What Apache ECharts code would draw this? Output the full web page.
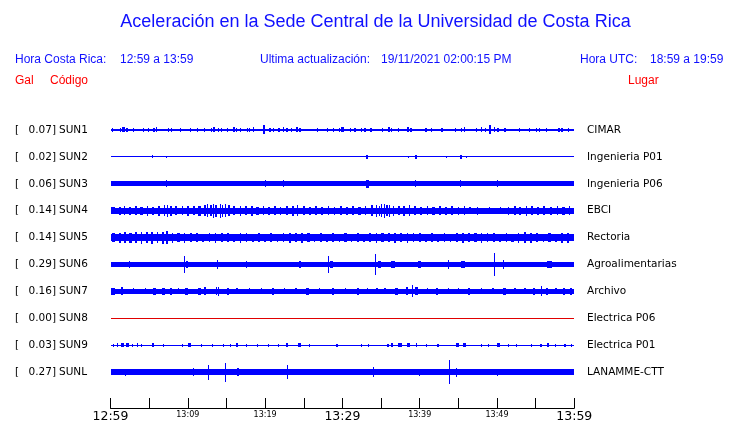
<!DOCTYPE html>
<html>
<head>
<meta charset="utf-8">
<script src="https://cdn.jsdelivr.net/npm/echarts@6/dist/echarts.min.js"></script>
<style>html,body{margin:0;padding:0;background:#fff;}#c{width:740px;height:423px;}</style>
</head>
<body>
<div id="c"></div>
<script>
// ---- data ----
const codes = ['SUN1','SUN2','SUN3','SUN4','SUN5','SUN6','SUN7','SUN8','SUN9','SUNL'];
const places = ['CIMAR','Ingenieria P01','Ingenieria P06','EBCI','Rectoria','Agroalimentarias','Archivo','Electrica P06','Electrica P01','LANAMME-CTT'];
const gal = ['0.07','0.02','0.06','0.14','0.14','0.29','0.16','0.00','0.03','0.27'];
const tickLabels = ['12:59','13:09','13:19','13:29','13:39','13:49','13:59'];
const tickMinutes = [0,10,20,30,40,50,60];
// base half-amplitude of the continuous trace (px-equivalent units)
const baseAmp = [1.0,0.5,2.5,3.0,3.5,2.5,2.5,0.5,0.5,2.7];
// bursts: [minute after 12:59, half-amplitude, duration in minutes]
const sun1 = [[0.3,2,0.15],[1.3,2,0.2],[1.7,2.5,0.3],[2.1,2,0.2],[2.9,2,0.1],[4.2,1.8,0.1],[4.9,2,0.1],[5.6,2,0.2],[5.9,2.5,0.15],[7.5,2,0.2],[7.9,2,0.15],[9.0,2,0.1],[10.3,2,0.1],[11.2,2,0.1],[12.2,2,0.15],[13.1,2,0.15],[13.4,2.5,0.2],[14.0,2,0.2],[14.4,2,0.15],[15.1,2,0.15],[16.0,2.5,0.2],[16.3,2,0.15],[16.8,2,0.1],[17.7,2,0.15],[18.0,2,0.2],[18.5,2.5,0.2],[19.8,4.5,0.25],[20.6,2,0.2],[21.1,2,0.15],[21.8,2,0.15],[22.4,2.5,0.2],[22.8,2,0.2],[23.4,2,0.1],[24.1,2.5,0.2],[24.5,2,0.2],[26.8,2,0.2],[28.0,2,0.1],[28.8,2,0.1],[29.6,2,0.2],[30.0,2.5,0.3],[31.0,2,0.15],[31.6,2,0.2],[32.5,2,0.15],[32.9,2,0.2],[33.7,2,0.15],[35.2,2,0.2],[36.0,2.5,0.2],[36.4,2,0.15],[37.3,2,0.15],[38.5,2.5,0.2],[38.9,2,0.2],[40.8,2,0.2],[41.5,2,0.1],[42.9,2,0.2],[44.6,2,0.15],[45.4,2,0.2],[45.8,2.5,0.2],[47.4,2,0.15],[48.0,2.5,0.2],[48.5,2,0.2],[49.1,4.5,0.25],[49.7,2.5,0.2],[50.1,2,0.2],[51.0,2,0.2],[52.9,2,0.2],[54.2,2,0.15],[55.1,2,0.2],[55.5,2,0.15],[56.4,2,0.15],[58.0,2,0.2],[58.4,2,0.2],[59.2,2,0.1]];
const sun2 = [[5.4,1.5,0.1],[7.2,1,0.08],[33.2,2,0.3],[38.5,1,0.08],[39.5,2,0.3],[43.5,1,0.08],[45.3,2,0.3],[46.0,1,0.08]];
const sun3 = [[7.2,3.5,0.1],[20.1,3.5,0.1],[22.4,3.5,0.1],[33.2,4,0.4],[39.4,3.5,0.1],[45.3,3.5,0.1],[50.0,3.5,0.08]];
const sun4 = [[0.3,3.5,0.5],[1.2,4,0.2],[1.8,4.5,0.15],[2.5,4,0.3],[3.3,4.5,0.2],[4.0,4,0.4],[4.8,5,0.15],[5.5,4,0.3],[6.3,5,0.2],[7.0,5.5,0.15],[7.4,6,0.15],[7.8,5,0.2],[8.5,4.5,0.3],[9.3,4.5,0.2],[10.0,5,0.3],[10.8,4.5,0.2],[11.5,5,0.3],[12.2,5.5,0.2],[12.6,6.5,0.15],[13.0,5.5,0.2],[13.3,7,0.15],[13.7,6,0.25],[14.2,7,0.15],[14.5,6,0.2],[14.9,6.5,0.15],[15.3,5.5,0.2],[16.0,4.5,0.2],[16.8,5,0.15],[17.5,4.5,0.3],[18.3,5,0.2],[19.0,4,0.3],[19.8,4.5,0.2],[20.5,4,0.2],[21.3,4.5,0.3],[22.0,4,0.2],[22.8,4.5,0.2],[23.6,5,0.2],[24.2,5.5,0.15],[25.0,4.5,0.3],[25.8,4,0.2],[26.6,4.5,0.2],[27.4,4,0.3],[28.2,4.5,0.2],[29.0,4,0.2],[29.8,4.5,0.3],[30.6,4,0.2],[31.4,4.5,0.2],[32.2,4,0.3],[33.0,4.5,0.2],[33.8,5.5,0.2],[34.4,6,0.2],[34.8,5,0.2],[35.1,6.5,0.15],[35.5,7,0.15],[35.8,5.5,0.2],[36.1,6,0.15],[36.6,5,0.2],[37.3,4.5,0.2],[38.0,5,0.2],[38.7,5.5,0.15],[39.4,4.5,0.3],[40.2,4,0.2],[41.0,4.5,0.2],[41.8,4,0.3],[42.6,4.5,0.2],[43.4,4,0.2],[44.2,4.5,0.3],[45.0,4,0.2],[45.8,4.5,0.2],[46.5,3.5,0.3],[47.5,4,0.2],[49.0,3.5,0.15],[50.5,3.5,0.15],[51.5,4,0.2],[52.3,4.5,0.2],[53.0,4,0.3],[53.8,5,0.15],[54.5,4.5,0.2],[55.3,4,0.3],[56.1,4.5,0.2],[57.0,4,0.3],[57.8,4.5,0.2],[58.6,4,0.3],[59.4,4.5,0.2]];
const sun5 = [[0.4,4.5,0.3],[1.2,5,0.2],[1.9,5.5,0.2],[2.6,5,0.3],[3.3,5.5,0.2],[4.0,6,0.2],[4.7,5.5,0.3],[5.4,6,0.2],[6.1,5.5,0.2],[6.8,6,0.2],[7.3,6.5,0.15],[8.0,5,0.2],[8.8,4.5,0.3],[9.6,5,0.2],[10.4,4.5,0.2],[11.2,4.5,0.3],[12.0,4,0.2],[12.8,4.5,0.2],[13.6,5,0.2],[14.4,4.5,0.3],[15.2,4.5,0.2],[16.0,4,0.3],[16.8,5,0.2],[17.6,4.5,0.2],[18.4,4,0.3],[19.2,4.5,0.2],[20.0,4,0.2],[20.8,4.5,0.3],[21.6,4,0.2],[22.4,4.5,0.2],[23.2,5,0.3],[24.0,4.5,0.2],[24.8,5,0.2],[25.6,4.5,0.3],[26.4,4,0.2],[27.2,4.5,0.2],[28.0,4,0.3],[28.8,4.5,0.2],[29.6,4,0.2],[30.4,4.5,0.3],[31.2,4,0.2],[32.0,4.5,0.2],[32.8,4,0.3],[33.6,4.5,0.2],[34.4,5,0.2],[35.2,4.5,0.3],[36.0,4.5,0.2],[36.8,5,0.2],[37.6,4.5,0.3],[38.4,5,0.2],[39.2,4.5,0.2],[40.0,4.5,0.3],[40.8,4,0.2],[41.6,4.5,0.2],[42.4,4,0.3],[43.2,4.5,0.2],[44.0,4,0.2],[44.8,4.5,0.3],[45.6,5,0.2],[46.4,4.5,0.2],[47.2,4.5,0.3],[48.0,5,0.2],[48.8,4.5,0.2],[49.6,4.5,0.3],[50.4,4,0.2],[51.2,4.5,0.2],[52.0,4,0.3],[52.8,5,0.2],[53.6,5.5,0.2],[54.4,5,0.3],[55.2,4.5,0.2],[56.0,4,0.2],[56.8,4.5,0.3],[57.6,4,0.2],[58.4,5,0.2],[59.2,5,0.3]];
const sun6 = [[2.5,4,0.1],[4.0,3,0.3],[5.2,3,0.2],[6.8,3,0.2],[8.0,3,0.4],[9.5,8.5,0.08],[9.9,3.2,0.3],[11.5,3,0.2],[13.8,4.5,0.1],[16.0,3,0.2],[17.6,3.2,0.1],[19.0,3,0.2],[20.5,3,0.2],[22.3,3,0.2],[24.5,3.2,0.2],[25.5,3,0.3],[26.8,3,0.2],[28.2,9,0.1],[28.6,3.5,0.4],[29.5,3,0.2],[31.5,3,0.3],[34.3,11,0.08],[34.8,3.2,0.4],[36.6,3.2,0.5],[38.4,3,0.2],[40.0,3.2,0.4],[42.2,3,0.2],[43.7,4.5,0.1],[45.6,3.4,0.5],[47.3,3,0.2],[49.7,11.5,0.1],[50.8,5,0.1],[52.5,3,0.2],[54.5,3,0.2],[56.8,3.6,0.6],[58.7,3,0.2]];
const sun7 = [[0.3,3.5,0.5],[1.5,4,0.2],[3.0,3,0.15],[4.5,3,0.2],[5.7,3.5,0.4],[6.9,3.5,0.4],[7.8,3.5,0.3],[8.8,3,0.2],[9.8,3.5,0.4],[11.5,3.5,0.3],[12.2,4,0.2],[13.7,4,0.2],[14.0,4.5,0.2],[15.2,3.5,0.3],[16.4,3,0.2],[18.0,3,0.15],[19.5,3,0.15],[21.0,3.5,0.2],[22.5,3,0.15],[24.0,3,0.2],[25.5,3.5,0.3],[27.0,3,0.15],[28.8,3.5,0.3],[30.4,3,0.2],[32.0,3.5,0.2],[33.2,3,0.15],[34.5,3,0.2],[35.5,3,0.2],[37.0,3.5,0.4],[38.4,4,0.3],[39.1,6,0.1],[39.6,4,0.3],[41.0,3,0.2],[42.2,3.5,0.3],[43.7,3,0.2],[45.0,3,0.2],[46.4,3.5,0.3],[48.0,3,0.2],[49.5,3,0.2],[51.0,3.5,0.4],[52.3,3,0.2],[53.6,3,0.2],[54.8,3.5,0.2],[55.8,5,0.15],[56.5,3.5,0.3],[57.6,3,0.2],[58.7,3.5,0.2],[59.6,3.5,0.2]];
const sun8 = [];
const sun9 = [[0.4,1.5,0.2],[0.9,2,0.2],[1.5,2,0.4],[2.2,2,0.3],[2.9,1.5,0.15],[3.5,1.8,0.2],[4.0,1.5,0.15],[5.5,2,0.2],[6.8,1.5,0.1],[9.3,1.5,0.1],[10.2,2,0.3],[11.7,1.5,0.1],[13.2,1.5,0.1],[14.6,1.5,0.15],[15.5,1.5,0.15],[16.4,2,0.2],[17.6,1.5,0.15],[19.0,1.5,0.15],[20.4,1.5,0.15],[21.7,1.5,0.15],[22.8,2,0.3],[24.4,2,0.4],[25.7,1.5,0.15],[29.3,1.5,0.15],[32.5,1.5,0.15],[33.4,1.5,0.15],[35.9,1.5,0.15],[36.4,2,0.3],[37.4,2,0.5],[38.6,2,0.4],[39.6,1.8,0.2],[40.9,1.5,0.1],[42.4,1.5,0.2],[44.9,2,0.3],[45.8,2,0.4],[48.0,1.5,0.1],[48.9,1.5,0.1],[50.2,2,0.5],[51.5,1.5,0.1],[52.5,1.5,0.15],[54.5,1.5,0.1],[55.7,1.5,0.15],[56.6,1.8,0.2],[57.6,1.5,0.15],[58.8,1.5,0.15],[59.6,1.5,0.15]];
const sunL = [[1.9,3.5,0.1],[6.7,3,0.1],[10.7,4,0.1],[12.6,7.5,0.08],[14.8,9.5,0.1],[16.5,3.8,0.25],[21.5,3,0.1],[22.9,7,0.1],[28.2,3,0.1],[34.0,5,0.1],[35.0,3.2,0.4],[37.5,3,0.15],[40.0,3.5,0.1],[41.8,3,0.15],[42.6,3,0.1],[43.8,12,0.1],[44.8,4.5,0.15],[48.0,3,0.1],[50.1,3.5,0.1],[53.5,3,0.1],[56.9,3,0.1]];
const bursts = [sun1,sun2,sun3,sun4,sun5,sun6,sun7,sun8,sun9,sunL];

// ---- layout / style ----
const GRID_TOP = 116, GRID_BOTTOM = 409, GRID_H = GRID_BOTTOM - GRID_TOP;
const FIRST_ROW = 130, ROW_STEP = 27;
const centerOf = i => GRID_BOTTOM - (FIRST_ROW + ROW_STEP * i);
const traceColor = i => (codes[i] === 'SUN8' ? '#e00000' : '#0000ff');

const chart = echarts.init(document.getElementById('c'), null, {renderer: 'canvas'});

function renderItem(params, api) {
  const t = api.value(0), a = api.value(1), d = api.value(2), c = api.value(3);
  const p0 = api.coord([t - d / 2, c + a]);
  const p1 = api.coord([t + d / 2, c - a]);
  const x0 = Math.round(p0[0]), y0 = Math.round(p0[1]);
  const x1 = Math.max(Math.round(p1[0]), x0 + 1), y1 = Math.max(Math.round(p1[1]), y0 + 1);
  return {type: 'rect', shape: {x: x0, y: y0, width: x1 - x0, height: y1 - y0},
          style: {fill: api.visual('color')}};
}

const series = codes.map((code, i) => {
  const c = centerOf(i);
  const data = [[30, baseAmp[i], 60, c]].concat(bursts[i].map(b => [b[0], b[1], b[2], c]));
  return {type: 'custom', name: code, renderItem, data, itemStyle: {color: traceColor(i)},
          silent: true, animation: false, clip: false, encode: {x: 0, y: 3}};
});

const option = {
  animation: false,
  backgroundColor: '#ffffff',
  grid: {left: 110.5, right: 165.7, top: GRID_TOP, height: GRID_H, containLabel: false},
  xAxis: {
    type: 'value', min: 0, max: 60, interval: 5,
    axisLine: {show: true, lineStyle: {color: '#000', width: 1}},
    axisTick: {show: true, inside: true, length: 10, lineStyle: {color: '#000', width: 1}},
    splitLine: {show: false},
    axisLabel: {
      margin: 2, color: '#000', fontFamily: 'DejaVu Sans',
      showMinLabel: true, showMaxLabel: true,
      formatter: v => {
        const k = tickMinutes.indexOf(v);
        if (k < 0) return '';
        return (v % 30 === 0) ? '{big|' + tickLabels[k] + '}' : '{small|' + tickLabels[k] + '}';
      },
      rich: {
        big: {fontSize: 12.5, fontFamily: 'DejaVu Sans', color: '#000'},
        small: {fontSize: 8, fontFamily: 'DejaVu Sans', color: '#000', padding: [1, 0, 0, 0]}
      }
    }
  },
  yAxis: {type: 'value', min: 0, max: GRID_H, show: false},
  series
};
chart.setOption(option);

// ---- header & station labels ----
const blue = '#1010ff', red = '#ff0000';
const hdr = (x, y, text, color) => ({type: 'text', x, y,
  style: {text, fill: color, font: '12px "Liberation Sans"', textVerticalAlign: 'middle'}});
const elements = [
  {type: 'text', x: 375.5, y: 22, style: {text: 'Aceleración en la Sede Central de la Universidad de Costa Rica',
    fill: blue, font: '18px "Liberation Sans"', textAlign: 'center', textVerticalAlign: 'middle'}},
  hdr(15, 60, 'Hora Costa Rica:', blue),
  hdr(120, 60, '12:59 a 13:59', blue),
  hdr(260, 60, 'Ultima actualización:', blue),
  hdr(381, 60, '19/11/2021 02:00:15 PM', blue),
  hdr(580, 60, 'Hora UTC:', blue),
  hdr(650, 60, '18:59 a 19:59', blue),
  hdr(15, 81, 'Gal', red),
  hdr(50, 81, 'Código', red),
  hdr(628, 81, 'Lugar', red)
];
const lblFont = '10.5px "DejaVu Sans"';
codes.forEach((code, i) => {
  const y = chart.convertToPixel({gridIndex: 0}, [0, centerOf(i)])[1];
  elements.push({type: 'text', x: 15, y, style: {text: '[', fill: '#000', font: lblFont, textVerticalAlign: 'middle'}});
  elements.push({type: 'text', x: 56, y, style: {text: gal[i] + ']', fill: '#000', font: lblFont, textAlign: 'right', textVerticalAlign: 'middle'}});
  elements.push({type: 'text', x: 59, y, style: {text: code, fill: '#000', font: lblFont, textVerticalAlign: 'middle'}});
  elements.push({type: 'text', x: 587, y, style: {text: places[i], fill: '#000', font: lblFont, textVerticalAlign: 'middle'}});
});
chart.setOption({graphic: {elements}});
</script>
</body>
</html>
